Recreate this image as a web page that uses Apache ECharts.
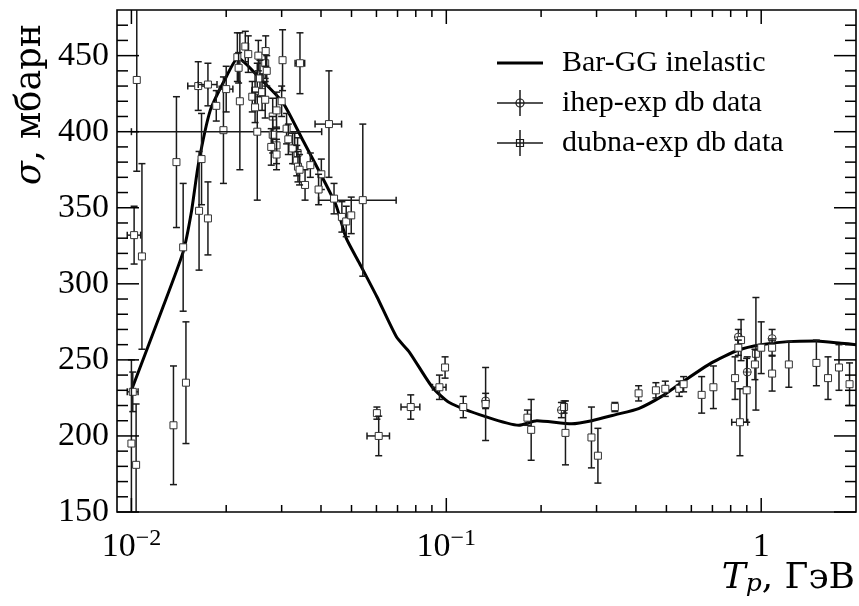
<!DOCTYPE html>
<html>
<head>
<meta charset="utf-8">
<title>sigma inelastic</title>
<script src="https://cdn.jsdelivr.net/npm/echarts@6/dist/echarts.min.js"></script>
<style>
  html, body {margin:0; padding:0; background:#fff;}
  #chart {width:859px; height:606px;}
</style>
</head>
<body>
<div id="chart"></div>
<script>
// Bar-GG inelastic curve
var curveX = [0.0100, 0.0124, 0.0146, 0.0155, 0.0163, 0.0178, 0.0200, 0.0218, 0.0256, 0.0303,
              0.0351, 0.0397, 0.0446, 0.0481, 0.0530, 0.0602, 0.0695, 0.0764, 0.0903, 0.1022,
              0.134, 0.170, 0.194, 0.250, 0.290, 0.345, 0.408, 0.483, 0.558, 0.695,
              0.846, 1.0, 1.217, 1.493, 1.791, 2.0];
var curveY = [230, 281, 321, 347, 378, 414, 436, 448.5, 435, 419,
              394, 373, 352, 330, 313.5, 291.5, 265, 255, 232, 222,
              212.5, 207, 210, 208, 210, 214, 218, 226, 235, 248,
              256.5, 260, 262, 262.4, 261, 260];

// dubna-exp db data: x, y, x error, y error
var dubnaX = [0.0104, 0.0108, 0.0102, 0.0101, 0.0100, 0.01035, 0.0136, 0.0149, 0.0146, 0.0164,
              0.0175, 0.0139, 0.0167, 0.0163, 0.0175, 0.0196, 0.0200, 0.0186, 0.0251, 0.0221,
              0.0217, 0.0230, 0.0235, 0.0253, 0.0266, 0.0267, 0.0302, 0.0343, 0.0219, 0.0256,
              0.0247, 0.0260, 0.0266, 0.0281, 0.0289, 0.0281, 0.0278, 0.0289, 0.0330, 0.0337,
              0.0242, 0.0247, 0.0269, 0.0424, 0.0543, 0.0401, 0.0356, 0.0393, 0.0440, 0.0466,
              0.0481, 0.0499, 0.0289, 0.0311, 0.0325, 0.0335, 0.0338, 0.0342, 0.0300, 0.0315,
              0.0370, 0.0602, 0.0610, 0.0771, 0.0951, 0.0991, 0.1132, 0.1333, 0.181, 0.186,
              0.2366, 0.239, 0.289, 0.303, 0.343, 0.408, 0.463, 0.496, 0.549, 0.567,
              0.647, 0.705, 0.826, 0.863, 0.846, 0.856, 0.899, 0.962, 0.955, 1.0,
              1.083, 1.083, 1.224, 1.497, 1.63, 1.766, 1.908];
var dubnaY = [434, 318, 332, 229, 195, 181, 207, 235, 324, 348,
              343, 380, 382, 430, 431, 401, 428, 417, 400, 420,
              449, 456, 451, 450, 445, 453, 447, 445, 442, 435,
              427, 426, 421, 410, 391, 398, 390, 385, 389, 386,
              423, 416, 440, 405, 355, 372, 365, 362, 356, 344,
              341, 345, 414, 402, 389, 381, 377, 375, 420, 395,
              378, 215, 200, 219, 232, 245, 219, 221, 212, 204,
              219, 202, 199, 187, 219, 228, 230, 231, 231, 234,
              227, 232, 238, 263, 258, 209, 230, 254, 247, 258,
              258, 241, 247, 248, 238, 245, 234];
var dubnaXErr = [0, 0, 0.0005, 0.0004, 0, 0, 0, 0, 0, 0,
                 0, 0, 0, 0.0012, 0.0012, 0, 0.0010, 0, 0.0151, 0,
                 0, 0, 0, 0, 0, 0, 0, 0.0012, 0, 0,
                 0, 0, 0, 0, 0, 0, 0, 0, 0, 0,
                 0, 0, 0, 0.0041, 0.015, 0, 0, 0, 0, 0,
                 0, 0, 0, 0, 0, 0, 0, 0, 0, 0,
                 0, 0, 0.0050, 0.0053, 0.0047, 0, 0, 0, 0, 0,
                 0, 0, 0, 0, 0, 0, 0, 0, 0, 0,
                 0, 0, 0, 0, 0, 0.05, 0, 0, 0, 0,
                 0, 0, 0, 0, 0, 0, 0];
var dubnaYErr = [60, 61, 19, 13, 55, 40, 39, 40, 42, 39,
                 24, 43, 30, 16, 14, 35, 15, 10, 45, 45,
                 16, 10, 12, 10, 10, 10, 20, 20, 10, 12,
                 12, 12, 12, 12, 12, 12, 12, 10, 10, 10,
                 10, 10, 10, 35, 50, 10, 10, 10, 10, 10,
                 10, 12, 12, 10, 10, 10, 10, 10, 10, 10,
                 8, 4, 13, 8, 8, 7, 7, 24, 5, 20,
                 4, 21, 20, 18, 3, 5, 5, 5, 5, 5,
                 12, 14, 14, 13.5, 5, 22, 21, 37, 10, 17,
                 5, 11.5, 15, 15, 14, 15, 14];

// ihep-exp db data
var ihepX = [0.1333, 0.232, 0.846, 0.903, 1.083];
var ihepY = [223, 217, 265, 242, 264];
var ihepXErr = [0, 0, 0, 0, 0];
var ihepYErr = [5, 5, 5, 10, 6];

// axis ticks
var xMajor = [0.01, 0.1, 1];
var xMinor = [0.02, 0.03, 0.04, 0.05, 0.06, 0.07, 0.08, 0.09,
              0.2, 0.3, 0.4, 0.5, 0.6, 0.7, 0.8, 0.9];
var yMajor = [150, 200, 250, 300, 350, 400, 450];
var yMinor = [160, 170, 180, 190, 210, 220, 230, 240, 260, 270, 280, 290,
              310, 320, 330, 340, 360, 370, 380, 390, 410, 420, 430, 440, 460, 470];

var legendNames = ['Bar-GG inelastic', 'ihep-exp db data', 'dubna-exp db data'];

var serif = 'Liberation Serif';
var wide = 'DejaVu Serif';
var ink = '#1a1a1a';

function zip4(a, b, c, d) {
  return a.map(function (v, i) { return [v, b[i], c[i], d[i]]; });
}

function errRender(kind) {
  return function (params, api) {
    var x = api.value(0), y = api.value(1), dx = api.value(2), dy = api.value(3);
    var p = api.coord([x, y]);
    var st = {stroke: ink, lineWidth: 1.5, fill: null};
    var cap = 3.5;
    var kids = [];
    if (dy > 0) {
      var a = api.coord([x, y + dy])[1], b = api.coord([x, y - dy])[1];
      kids.push({type: 'line', shape: {x1: p[0], y1: a, x2: p[0], y2: b}, style: st});
      kids.push({type: 'line', shape: {x1: p[0] - cap, y1: a, x2: p[0] + cap, y2: a}, style: st});
      kids.push({type: 'line', shape: {x1: p[0] - cap, y1: b, x2: p[0] + cap, y2: b}, style: st});
    }
    if (dx > 0) {
      var l = api.coord([x - dx, y])[0], r = api.coord([x + dx, y])[0];
      kids.push({type: 'line', shape: {x1: l, y1: p[1], x2: r, y2: p[1]}, style: st});
      kids.push({type: 'line', shape: {x1: l, y1: p[1] - cap, x2: l, y2: p[1] + cap}, style: st});
      kids.push({type: 'line', shape: {x1: r, y1: p[1] - cap, x2: r, y2: p[1] + cap}, style: st});
    }
    if (kind === 'square') {
      kids.push({type: 'rect', shape: {x: p[0] - 3.5, y: p[1] - 3.5, width: 7, height: 7},
                 style: {fill: '#fff', stroke: '#333', lineWidth: 1}});
    } else {
      kids.push({type: 'circle', shape: {cx: p[0], cy: p[1], r: 4},
                 style: {fill: '#fff', stroke: '#333', lineWidth: 1}});
      kids.push({type: 'line', shape: {x1: p[0] - 4, y1: p[1], x2: p[0] + 4, y2: p[1]}, style: {stroke: '#333', lineWidth: 1}});
      kids.push({type: 'line', shape: {x1: p[0], y1: p[1] - 4, x2: p[0], y2: p[1] + 4}, style: {stroke: '#333', lineWidth: 1}});
    }
    return {type: 'group', children: kids};
  };
}

function tickRender(params, api) {
  var cs = params.coordSys;
  var L = cs.x, R = cs.x + cs.width, T = cs.y, B = cs.y + cs.height;
  var st = {stroke: '#000', lineWidth: 1.5};
  var kids = [];
  function xt(v, len) {
    var px = api.coord([v, 300])[0];
    kids.push({type: 'line', shape: {x1: px, y1: B, x2: px, y2: B - len}, style: st});
    kids.push({type: 'line', shape: {x1: px, y1: T, x2: px, y2: T + len}, style: st});
  }
  function yt(v, len) {
    var py = api.coord([1, v])[1];
    kids.push({type: 'line', shape: {x1: L, y1: py, x2: L + len, y2: py}, style: st});
    kids.push({type: 'line', shape: {x1: R, y1: py, x2: R - len, y2: py}, style: st});
  }
  xMajor.forEach(function (v) { xt(v, 14); });
  xMinor.forEach(function (v) { xt(v, 7); });
  yMajor.forEach(function (v) { yt(v, 22); });
  yMinor.forEach(function (v) { yt(v, 11); });
  return {type: 'group', children: kids};
}

// legend drawn by hand so the serif face sticks
function legendRow(i, marker) {
  var cy = 63 + i * 40, x0 = 497, x1 = 543, xm = 520;
  var thin = {stroke: ink, lineWidth: 1.5};
  var kids = [];
  if (marker === 'line') {
    kids.push({type: 'line', shape: {x1: x0, y1: cy, x2: x1, y2: cy}, style: {stroke: '#000', lineWidth: 3}});
  } else {
    kids.push({type: 'line', shape: {x1: x0, y1: cy, x2: x1, y2: cy}, style: thin});
    kids.push({type: 'line', shape: {x1: xm, y1: cy - 13, x2: xm, y2: cy + 13}, style: thin});
    if (marker === 'circle') {
      kids.push({type: 'circle', shape: {cx: xm, cy: cy, r: 4}, style: {fill: 'none', stroke: ink, lineWidth: 1.2}});
    } else {
      kids.push({type: 'rect', shape: {x: xm - 3.5, y: cy - 3.5, width: 7, height: 7}, style: {fill: 'none', stroke: ink, lineWidth: 1.2}});
    }
  }
  kids.push({type: 'text', x: 562, y: cy,
             style: {text: legendNames[i], fontFamily: serif, fontSize: 30, fill: '#000', verticalAlign: 'middle'}});
  return {type: 'group', children: kids};
}

var chart = echarts.init(document.getElementById('chart'));
chart.setOption({
  animation: false,
  backgroundColor: '#fff',
  textStyle: {fontFamily: serif},
  grid: {left: 117, right: 1, top: 10, bottom: 94, show: true, borderColor: '#000', borderWidth: 1.6},
  xAxis: {
    type: 'log', logBase: 10, min: 0.009, max: 2,
    axisLine: {show: false}, axisTick: {show: false}, splitLine: {show: false},
    axisLabel: {
      margin: 15, color: '#000', hideOverlap: false,
      formatter: function (v) {
        var e = Math.log10(v);
        if (Math.abs(e - Math.round(e)) > 1e-6) return '';
        e = Math.round(e);
        if (e === 0) return '{b|1}';
        return '{b|10}{s|\u2212' + (-e) + '}';
      },
      rich: {
        b: {fontFamily: serif, fontSize: 34, color: '#000', lineHeight: 40},
        s: {fontFamily: serif, fontSize: 24, color: '#000', verticalAlign: 'top', lineHeight: 26}
      }
    }
  },
  yAxis: {
    type: 'value', min: 150, max: 480, interval: 50,
    axisLine: {show: false}, axisTick: {show: false}, splitLine: {show: false},
    axisLabel: {
      margin: 8, color: '#000', fontFamily: serif, fontSize: 34, showMaxLabel: false,
      formatter: function (v) { return v <= 450 ? String(v) : ''; }
    }
  },
  graphic: [
    {type: 'text', x: 31, y: 24, rotation: Math.PI / 2,
     style: {text: '{i|\u03c3}, мбарн', align: 'right', verticalAlign: 'middle',
             fontFamily: wide, fontSize: 35, fill: '#000',
             rich: {i: {fontFamily: wide, fontSize: 35, fontStyle: 'italic'}}}},
    {type: 'text', x: 855, y: 579,
     style: {text: '{i|T}{sub|p}, ГэВ', align: 'right', verticalAlign: 'middle',
             fontFamily: wide, fontSize: 36, fill: '#000',
             rich: {i: {fontFamily: wide, fontSize: 36, fontStyle: 'italic'},
                    sub: {fontFamily: wide, fontSize: 25, fontStyle: 'italic', verticalAlign: 'bottom'}}}},
    legendRow(0, 'line'),
    legendRow(1, 'circle'),
    legendRow(2, 'square')
  ],
  series: [
    {name: 'Bar-GG inelastic', type: 'line', symbol: 'none', smooth: 0.2, z: 3,
     lineStyle: {color: '#000', width: 3}, itemStyle: {color: '#000'},
     data: curveX.map(function (x, i) { return [x, curveY[i]]; })},
    {name: 'ihep-exp db data', type: 'custom', clip: true, z: 4,
     renderItem: errRender('circle'), itemStyle: {color: ink},
     data: zip4(ihepX, ihepY, ihepXErr, ihepYErr)},
    {name: 'dubna-exp db data', type: 'custom', clip: true, z: 4,
     renderItem: errRender('square'), itemStyle: {color: ink},
     data: zip4(dubnaX, dubnaY, dubnaXErr, dubnaYErr)},
    {name: 'ticks', type: 'custom', silent: true, z: 5,
     renderItem: tickRender, data: [[1, 300]]}
  ]
});
</script>
</body>
</html>
